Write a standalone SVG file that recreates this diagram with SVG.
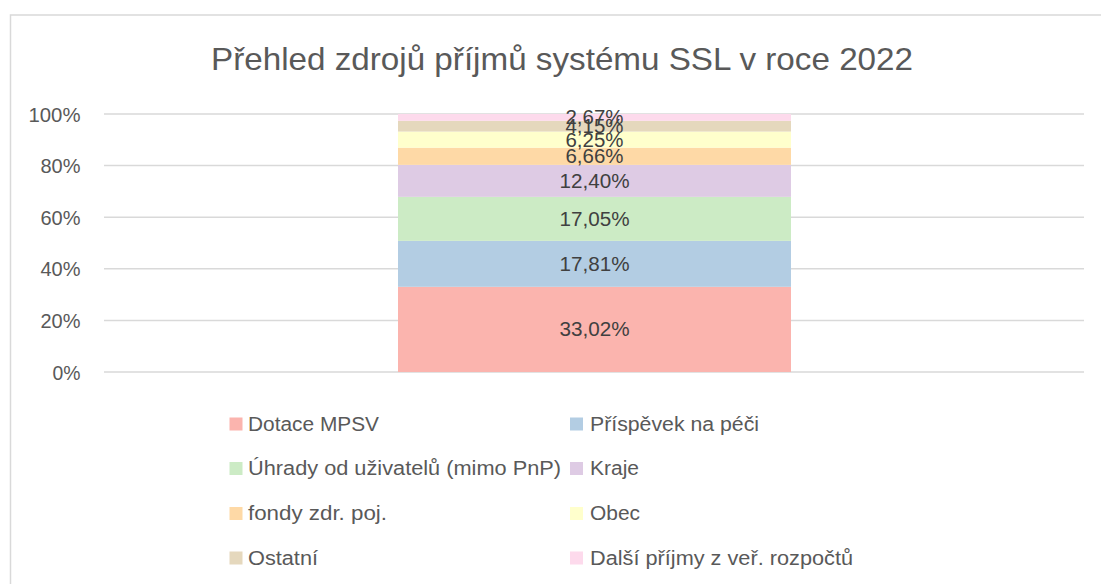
<svg xmlns="http://www.w3.org/2000/svg" width="1101" height="584" viewBox="0 0 1101 584">
<style>
text{font-family:"Liberation Sans",Arial,sans-serif}
.ax{font-size:20px;fill:#595959;text-anchor:end}
.lg{font-size:20px;fill:#595959}
.dl{font-size:20px;fill:#404040;text-anchor:middle}
.grid{stroke:#D9D9D9;stroke-width:1.5}
</style>
<rect x="0" y="0" width="1101" height="584" fill="#FFFFFF"/>
<rect x="10.5" y="15" width="1110" height="600" fill="#FFFFFF" stroke="#D9D9D9" stroke-width="1.5"/>
<text x="562" y="69.5" textLength="702" lengthAdjust="spacingAndGlyphs" style="font-size:32px;fill:#595959;text-anchor:middle">Přehled zdrojů příjmů systému SSL v roce 2022</text>
<g id="grid">
<line class="grid" x1="104" y1="114" x2="1084" y2="114"/>
<line class="grid" x1="104" y1="165.6" x2="1084" y2="165.6"/>
<line class="grid" x1="104" y1="217.2" x2="1084" y2="217.2"/>
<line class="grid" x1="104" y1="268.8" x2="1084" y2="268.8"/>
<line class="grid" x1="104" y1="320.4" x2="1084" y2="320.4"/>
<line class="grid" x1="104" y1="372" x2="1084" y2="372"/>
</g>
<g id="yaxis">
<text class="ax" x="80.5" y="121.5" textLength="52" lengthAdjust="spacingAndGlyphs">100%</text>
<text class="ax" x="80.5" y="173.1" textLength="40" lengthAdjust="spacingAndGlyphs">80%</text>
<text class="ax" x="80.5" y="224.7" textLength="40" lengthAdjust="spacingAndGlyphs">60%</text>
<text class="ax" x="80.5" y="276.3" textLength="40" lengthAdjust="spacingAndGlyphs">40%</text>
<text class="ax" x="80.5" y="327.9" textLength="40" lengthAdjust="spacingAndGlyphs">20%</text>
<text class="ax" x="80.5" y="379.5" textLength="28" lengthAdjust="spacingAndGlyphs">0%</text>
</g>
<g id="bar">
<rect id="s1" x="398" y="286.81" width="393" height="85.19" fill="#FBB4AE"/>
<rect id="s2" x="398" y="240.86" width="393" height="45.95" fill="#B3CDE3"/>
<rect id="s3" x="398" y="196.87" width="393" height="43.99" fill="#CCEBC5"/>
<rect id="s4" x="398" y="164.88" width="393" height="31.99" fill="#DECBE4"/>
<rect id="s5" x="398" y="147.69" width="393" height="17.19" fill="#FED9A6"/>
<rect id="s6" x="398" y="131.57" width="393" height="16.12" fill="#FFFFCC"/>
<rect id="s7" x="398" y="120.86" width="393" height="10.71" fill="#E5D8BD"/>
<rect id="s8" x="398" y="114" width="393" height="6.86" fill="#FDDAEC"/>
</g>
<g id="labels">
<text class="dl" x="594.5" y="336.4" textLength="70" lengthAdjust="spacingAndGlyphs">33,02%</text>
<text class="dl" x="594.5" y="270.8" textLength="70" lengthAdjust="spacingAndGlyphs">17,81%</text>
<text class="dl" x="594.5" y="225.9" textLength="70" lengthAdjust="spacingAndGlyphs">17,05%</text>
<text class="dl" x="594.5" y="187.9" textLength="70" lengthAdjust="spacingAndGlyphs">12,40%</text>
<text class="dl" x="594.5" y="163.3" textLength="58" lengthAdjust="spacingAndGlyphs">6,66%</text>
<text class="dl" x="594.5" y="146.6" textLength="58" lengthAdjust="spacingAndGlyphs">6,25%</text>
<text class="dl" x="594.5" y="133.2" textLength="58" lengthAdjust="spacingAndGlyphs">4,15%</text>
<text class="dl" x="594.5" y="124.4" textLength="58" lengthAdjust="spacingAndGlyphs">2,67%</text>
</g>
<g id="legend">
<g id="lg1"><rect x="229.5" y="417.5" width="13" height="13" fill="#FBB4AE"/><text class="lg" x="248" y="430.5" textLength="131" lengthAdjust="spacingAndGlyphs">Dotace MPSV</text></g>
<g id="lg2"><rect x="570" y="417.5" width="13" height="13" fill="#B3CDE3"/><text class="lg" x="590" y="430.5" textLength="169" lengthAdjust="spacingAndGlyphs">Příspěvek na péči</text></g>
<g id="lg3"><rect x="229.5" y="462" width="13" height="13" fill="#CCEBC5"/><text class="lg" x="248" y="475" textLength="313" lengthAdjust="spacingAndGlyphs">Úhrady od uživatelů (mimo PnP)</text></g>
<g id="lg4"><rect x="570" y="462" width="13" height="13" fill="#DECBE4"/><text class="lg" x="590" y="475" textLength="49" lengthAdjust="spacingAndGlyphs">Kraje</text></g>
<g id="lg5"><rect x="229.5" y="507" width="13" height="13" fill="#FED9A6"/><text class="lg" x="248" y="520" textLength="139" lengthAdjust="spacingAndGlyphs">fondy zdr. poj.</text></g>
<g id="lg6"><rect x="570" y="507" width="13" height="13" fill="#FFFFCC"/><text class="lg" x="590" y="520" textLength="50" lengthAdjust="spacingAndGlyphs">Obec</text></g>
<g id="lg7"><rect x="229.5" y="551.5" width="13" height="13" fill="#E5D8BD"/><text class="lg" x="248" y="564.5" textLength="70" lengthAdjust="spacingAndGlyphs">Ostatní</text></g>
<g id="lg8"><rect x="570" y="551.5" width="13" height="13" fill="#FDDAEC"/><text class="lg" x="590" y="564.5" textLength="263" lengthAdjust="spacingAndGlyphs">Další příjmy z veř. rozpočtů</text></g>
</g>
</svg>
